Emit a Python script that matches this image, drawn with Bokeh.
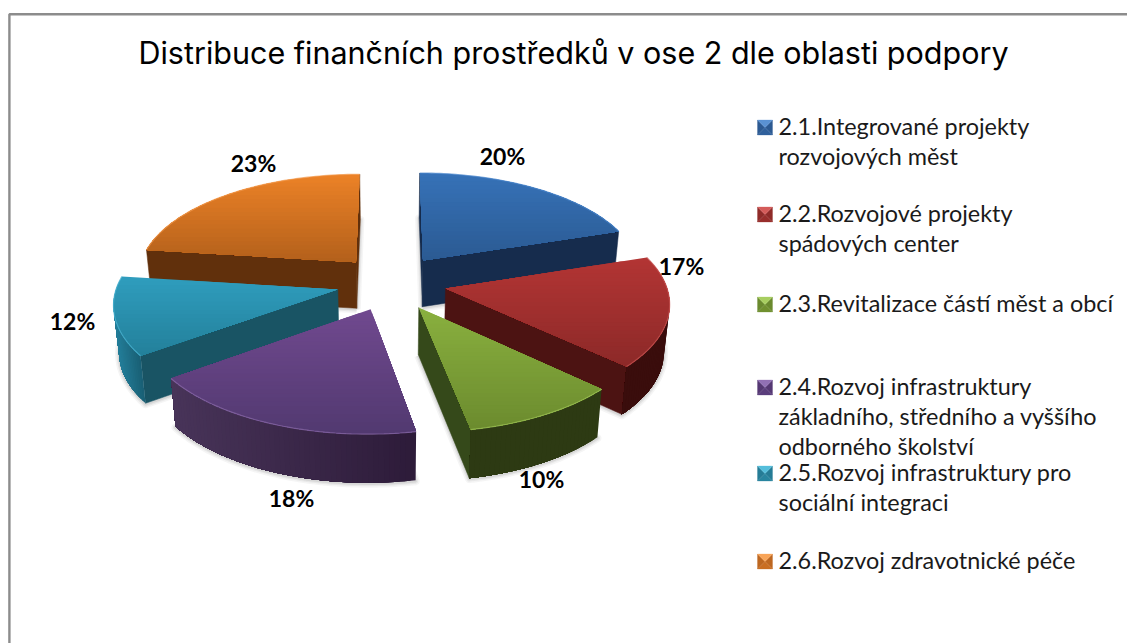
from bokeh.plotting import figure
from bokeh.models import Range1d
from bokeh.core.properties import value
from bokeh.embed import file_html
from bokeh.resources import INLINE
import math

TITLE = "Distribuce finančních prostředků v ose 2 dle oblasti podpory"
VALUES = [20, 17, 10, 18, 12, 23]
PERCENT_LABELS = ["20%", "17%", "10%", "18%", "12%", "23%"]
LEGEND_LINES = [
    ["2.1.Integrované projekty", "rozvojových měst"],
    ["2.2.Rozvojové projekty", "spádových center"],
    ["2.3.Revitalizace částí měst a obcí"],
    ["2.4.Rozvoj infrastruktury", "základního, středního a vyššího", "odborného školství"],
    ["2.5.Rozvoj infrastruktury pro", "sociální integraci"],
    ["2.6.Rozvoj zdravotnické péče"],
]

# styling: top gradient start/end, radial wall, arc wall left/right
TOP_A = ["#3672b8", "#b33534", "#8ab03f", "#70498f", "#2f9dbe", "#ec8227"]
TOP_B = ["#2b5a92", "#8c2928", "#6b8b2e", "#523970", "#23809a", "#b3601b"]
WALL = ["#162c4d", "#4c1312", "#35491a", "#3c2a52", "#195464", "#61300c"]
ARC_L = ["#1c3a64", "#3a0d0c", "#2d3a13", "#483459", "#247f9b", "#7a3e10"]
ARC_R = ["#162c4d", "#3a0d0c", "#2d3a13", "#2d1b39", "#17596d", "#61300c"]
RIM = ["#4a86cc", "#c65452", "#9cc257", "#8a6ba8", "#4db4d2", "#f29a4f"]
KEY_T = ["#5a92d2", "#d45c5a", "#a8ce60", "#9170b4", "#55bedb", "#f8a458"]
KEY_M = ["#2f609c", "#982e2c", "#70902f", "#5a3d7c", "#28859f", "#c96e22"]
KEY_D = ["#2c5a92", "#8f2b29", "#6a8a2e", "#553873", "#257c96", "#bd6720"]

# layout constants (page pixels)
W, H = 1127, 643
CX, CY = 391, 282
AX, BY, PERSP = 220, 103, 0.12
EXPLODE_X, EXPLODE_Y = 0.25, 0.27
DEPTH, DEPTH_P, BASE_SHRINK = 46.5, 0.035, 0.98
LABEL_XY = [(502, 155), (681, 265), (541, 478), (291, 497), (72, 320), (253, 162)]
LEGEND_Y = [[127, 157], [214, 244], [304], [387, 417, 447], [473, 503], [561]]
TEXT_DY = -1.5
KEY_X, TEXT_X, KEY_HALF = 764.5, 778, 7.5
DRAW_ORDER = [0, 5, 1, 4, 2, 3]

p = figure(width=W, height=H, output_backend="svg", toolbar_location=None,
           x_range=Range1d(0, W), y_range=Range1d(H, 0),
           min_border=0, outline_line_color=None, background_fill_color="white",
           border_fill_color="white")
p.axis.visible = False
p.grid.visible = False


def mix(c1, c2, t):
    a = [int(c1[i:i + 2], 16) for i in (1, 3, 5)]
    b = [int(c2[i:i + 2], 16) for i in (1, 3, 5)]
    return "#%02x%02x%02x" % tuple(round(a[i] + (b[i] - a[i]) * t) for i in range(3))


def proj(gx, gy, top=True):
    s = 1 / (1 + PERSP * gy)
    x, y = CX + AX * gx * s, CY - BY * gy * s
    if not top:
        x = CX + (x - CX) * BASE_SHRINK
        y += DEPTH / (1 + DEPTH_P * gy)
    return x, y


def clip_below(poly, yv):
    out = []
    for i, a in enumerate(poly):
        b = poly[(i + 1) % len(poly)]
        ina, inb = a[1] >= yv, b[1] >= yv
        if ina:
            out.append(a)
        if ina != inb:
            t = (yv - a[1]) / (b[1] - a[1])
            out.append((a[0] + (b[0] - a[0]) * t, yv))
    return out


def area(q):
    return sum(q[i][0] * q[(i + 1) % len(q)][1] - q[(i + 1) % len(q)][0] * q[i][1] for i in range(len(q)))


total = sum(VALUES)
starts, acc = [], 0
for v in VALUES:
    starts.append(acc / total * 2 * math.pi)
    acc += v


def slice_shape(i):
    a0 = starts[i]
    a1 = a0 + VALUES[i] / total * 2 * math.pi
    mid = (a0 + a1) / 2
    ox, oy = EXPLODE_X * math.sin(mid), EXPLODE_Y * math.cos(mid)
    n = max(16, VALUES[i] * 3)
    rim = [(ox + math.sin(a0 + (a1 - a0) * k / n), oy + math.cos(a0 + (a1 - a0) * k / n)) for k in range(n + 1)]
    return (ox, oy), rim


def draw_poly(pts, color, lw=0.0):
    p.patch([q[0] for q in pts], [q[1] for q in pts], fill_color=color,
            line_color=color if lw else None, line_width=lw or 1)


# soft shadows below the slices
for i in DRAW_ORDER:
    apex, rim = slice_shape(i)
    base = [proj(*apex, False)] + [proj(*r, False) for r in rim]
    bx = [q[0] for q in base] + [base[0][0]]
    by = [q[1] + 1 for q in base] + [base[0][1] + 1]
    for lw, al in ((8, 0.05), (5, 0.07), (2.5, 0.1)):
        p.line(bx, by, line_color="#404040", line_width=lw, line_alpha=al, line_join="round")

for i in DRAW_ORDER:
    apex, rim = slice_shape(i)
    # radial walls
    for a, b in ((apex, rim[0]), (rim[-1], apex)):
        q = [proj(*a), proj(*b), proj(*b, False), proj(*a, False)]
        if area(q) < 0:
            draw_poly(q, WALL[i], 0.5)
    # outer wall: overlapping pieces, shaded along its length
    vis = [k for k in range(len(rim) - 1)
           if area([proj(*rim[k]), proj(*rim[k + 1]), proj(*rim[k + 1], False), proj(*rim[k], False)]) < 0]
    if vis:
        sel = rim[vis[0]:vis[-1] + 2]
        tops = [proj(*r) for r in sel]
        bots = [proj(*r, False) for r in sel]
        xs = [t[0] for t in tops] + [b[0] for b in bots]
        lo, hi = min(xs), max(xs)
        for k in range(len(sel) - 1):
            piece = tops[k:] + bots[k:][::-1]
            t = ((tops[k][0] + tops[k + 1][0]) / 2 - lo) / (hi - lo)
            draw_poly(piece, mix(ARC_L[i], ARC_R[i], t))
    # top face: overlapping gradient bands, each reaching to the lowest point
    top = [proj(*apex)] + [proj(*r) for r in rim]
    ymin, ymax = min(q[1] for q in top), max(q[1] for q in top)
    bands = max(6, int((ymax - ymin) / 4))
    for b in range(bands):
        y0 = ymin + (ymax - ymin) * b / bands
        piece = top if b == 0 else clip_below(top, y0)
        if len(piece) >= 3:
            draw_poly(piece, mix(TOP_A[i], TOP_B[i], (b + 0.5) / bands))
    # lit rim
    p.line([proj(*r)[0] for r in rim], [proj(*r)[1] for r in rim],
           line_color=RIM[i], line_width=1.2, line_alpha=0.7)

# frame of the pasted chart
p.line([8.9, 8.9, W], [H, 13.8, 13.8], line_color="#8c8c8c", line_width=2.4)

# title
p.text([573], [52], text=[TITLE], text_font=value("Inter"),
       text_font_size="30.5px", text_color="#000000", text_align="center", text_baseline="middle")

# data labels
p.text([q[0] for q in LABEL_XY], [q[1] for q in LABEL_XY], text=PERCENT_LABELS,
       text_font=value("Lato"), text_font_style="bold", text_font_size="23px",
       text_color="#000000", text_align="center", text_baseline="middle")

# legend
for i, lines in enumerate(LEGEND_LINES):
    ys = LEGEND_Y[i]
    p.text([TEXT_X] * len(lines), [y + TEXT_DY for y in ys], text=lines, text_font=value("Lato"),
           text_font_size="23.4px", text_color="#1a1a1a", text_align="left", text_baseline="middle")
    ky = ys[0]
    h = KEY_HALF
    c = (KEY_X, ky)
    tl, tr, br, bl = (KEY_X - h, ky - h), (KEY_X + h, ky - h), (KEY_X + h, ky + h), (KEY_X - h, ky + h)
    draw_poly([tr, br, c], KEY_D[i], 0.3)
    draw_poly([br, bl, c], KEY_M[i], 0.3)
    draw_poly([bl, tl, c], KEY_D[i], 0.3)
    draw_poly([tl, tr, c], KEY_T[i], 0.3)

open("out.html", "w").write(file_html(p, INLINE))
